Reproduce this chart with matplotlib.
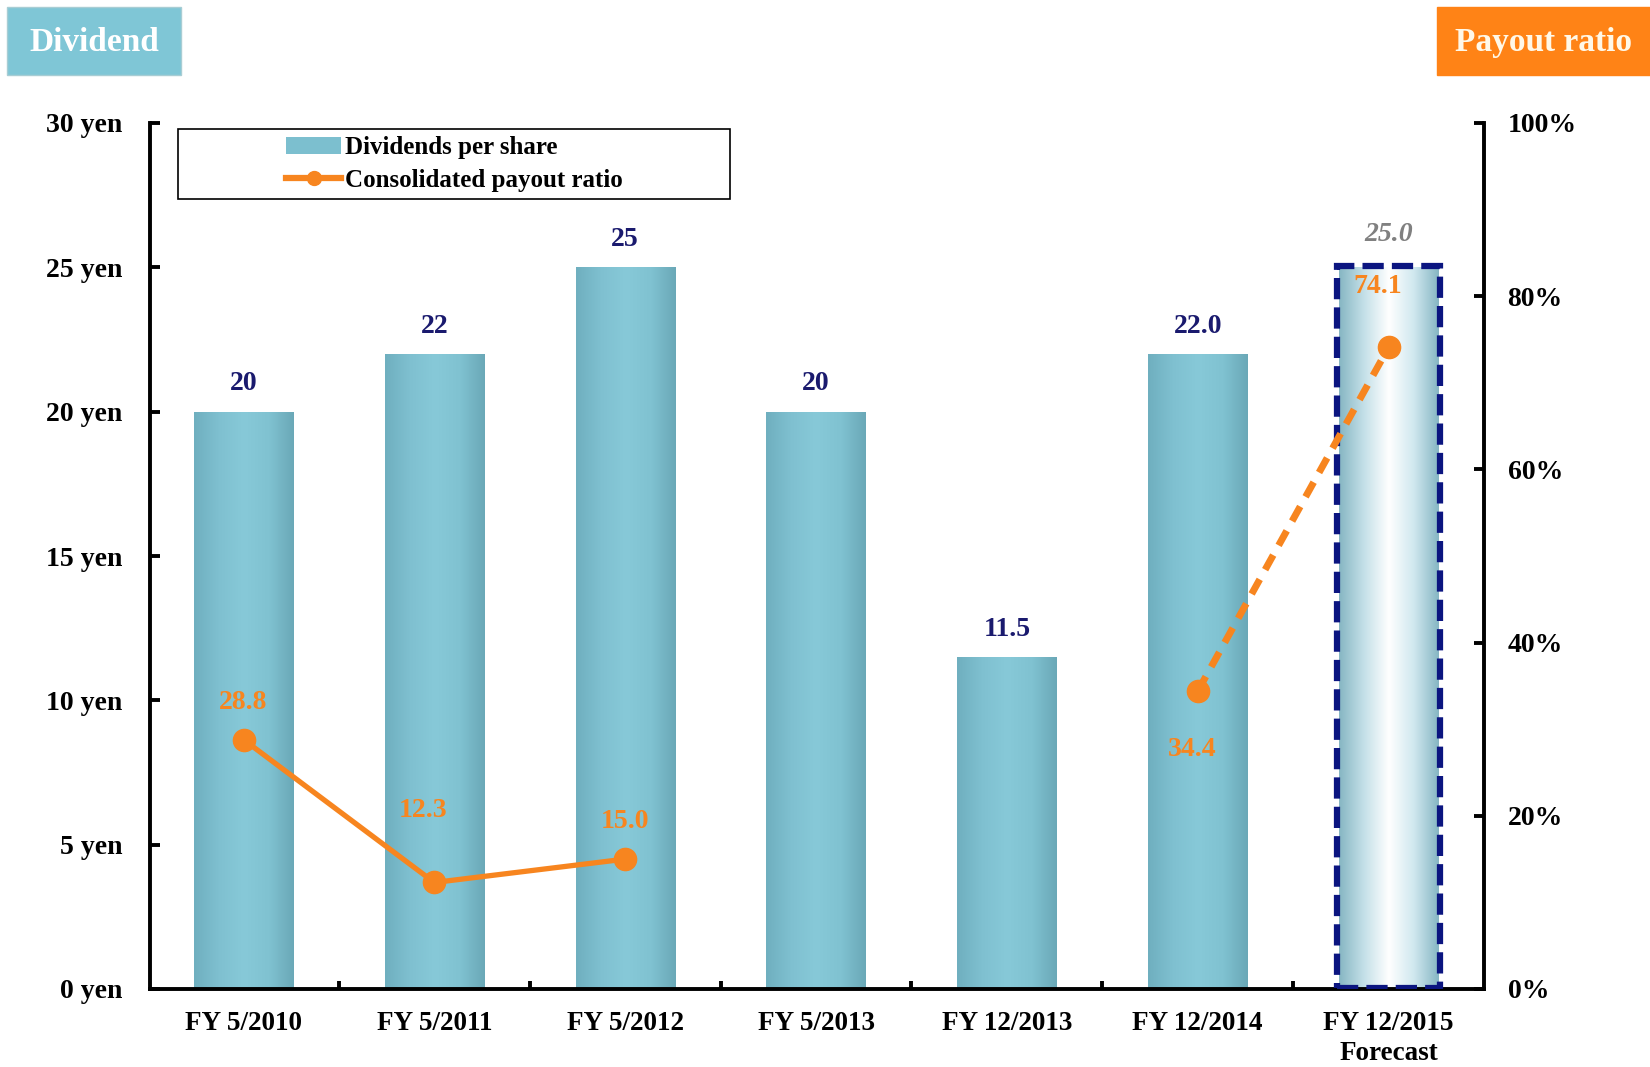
import numpy as np
import matplotlib
matplotlib.use("Agg")
import matplotlib.pyplot as plt
from matplotlib.patches import Rectangle
from matplotlib.lines import Line2D
from matplotlib.colors import LinearSegmentedColormap

plt.rcParams['font.family'] = ['Liberation Serif', 'DejaVu Serif']
plt.rcParams['font.weight'] = 'bold'

# ---------------- data ----------------
categories = ["FY 5/2010", "FY 5/2011", "FY 5/2012", "FY 5/2013",
              "FY 12/2013", "FY 12/2014", "FY 12/2015\nForecast"]
dividends = [20, 22, 25, 20, 11.5, 22.0, 25.0]
dividend_labels = ["20", "22", "25", "20", "11.5", "22.0", "25.0"]
payout_actual_idx = [0, 1, 2]
payout_actual = [28.8, 12.3, 15.0]
payout_fc_idx = [5, 6]
payout_fc = [34.4, 74.1]
payout_labels = ["28.8", "12.3", "15.0", "34.4", "74.1"]
left_ticks = [0, 5, 10, 15, 20, 25, 30]
left_ticklabels = ["0 yen", "5 yen", "10 yen", "15 yen", "20 yen", "25 yen", "30 yen"]
right_ticks = [0, 20, 40, 60, 80, 100]
right_ticklabels = ["0%", "20%", "40%", "60%", "80%", "100%"]

# ---------------- styles ----------------
ORANGE = '#f7851f'
NAVY = '#1a1a6e'
BOXNAVY = '#0b1580'
bar_cmap = LinearSegmentedColormap.from_list('bar', ['#6fafbf', '#7fc0d0', '#87c9d8', '#80c2d1', '#6aa8b7'])
fc_cmap = LinearSegmentedColormap.from_list('fc', ['#86b6c3', '#c4e0e8', '#ffffff', '#d0e8ef', '#86b6c3'])
payout_offsets = [(0, 27), (-8, 52), (0, 27), (-4, -42), (-8, 44)]
FS = 20

fig = plt.figure(figsize=(16.5, 10.67), dpi=100)
ax = fig.add_axes([150/1650, 1-989/1067, (1484-150)/1650, (989-123)/1067])
ax2 = ax.twinx()

x = np.arange(len(categories))
width = 0.52
bars = ax.bar(x, dividends, width=width, color='none', edgecolor='none', zorder=2)
grad = np.linspace(0, 1, 256).reshape(1, -1)
for i, b in enumerate(bars):
    bx, by = b.get_x(), b.get_y()
    bw, bh = b.get_width(), b.get_height()
    cmap = fc_cmap if i == len(bars) - 1 else bar_cmap
    im = ax.imshow(grad, cmap=cmap, aspect='auto', extent=[bx, bx + bw, by, by + bh],
                   zorder=2, interpolation='bicubic')
    im.set_clip_path(b)
    if i == len(bars) - 1:
        pad = 0.012
        ax.add_patch(Rectangle((bx - pad, 0.05), bw + 2 * pad, bh,
                               fill=False, edgecolor=BOXNAVY, lw=4.5,
                               linestyle=(0, (3.4, 1.3)), zorder=3))

for i, (xi, v, lab) in enumerate(zip(x, dividends, dividend_labels)):
    if i == len(x) - 1:
        ax.annotate(lab, (xi, v), xytext=(0, 15), textcoords='offset points',
                    ha='center', va='bottom', fontsize=FS, color='#808080',
                    style='italic', fontweight='bold')
    else:
        ax.annotate(lab, (xi, v), xytext=(0, 11), textcoords='offset points',
                    ha='center', va='bottom', fontsize=FS, color=NAVY, fontweight='bold')

ax.set_xlim(-0.49, 6.5)
ax.set_ylim(0, 30)
ax2.set_ylim(0, 100)

ax2.plot(x[payout_actual_idx], payout_actual, color=ORANGE, lw=3.8, marker='o',
         markersize=16, zorder=5)
ax2.plot(x[payout_fc_idx], payout_fc, color=ORANGE, lw=5, linestyle=(0, (2.4, 1.6)),
         marker='o', markersize=16, zorder=5)
all_idx = payout_actual_idx + payout_fc_idx
all_val = payout_actual + payout_fc
for xi_i, v, lab, off in zip(all_idx, all_val, payout_labels, payout_offsets):
    ax2.annotate(lab, (x[xi_i], v), xytext=off, textcoords='offset points',
                 ha='center', va='center', fontsize=FS, color=ORANGE, fontweight='bold')

# axes styling
for a in (ax, ax2):
    for s in a.spines.values():
        s.set_linewidth(2.8)
        s.set_color('black')
    a.spines['top'].set_visible(False)
ax.spines['right'].set_visible(False)
ax2.spines['left'].set_visible(False)
ax2.spines['bottom'].set_visible(False)

ax.set_yticks(left_ticks)
ax.set_yticklabels(left_ticklabels, fontsize=FS, fontweight='bold')
ax.tick_params(axis='y', direction='in', length=7, width=2.8, pad=20)
ax2.set_yticks(right_ticks)
ax2.set_yticklabels(right_ticklabels, fontsize=FS, fontweight='bold')
ax2.tick_params(axis='y', direction='in', length=7, width=2.8, pad=17)

ax.set_xticks(x)
ax.set_xticklabels(categories, fontsize=19.5, fontweight='bold', linespacing=1.25)
ax.tick_params(axis='x', length=0, pad=16)
ax.set_xticks(np.arange(len(categories) - 1) + 0.5, minor=True)
ax.tick_params(axis='x', which='minor', direction='in', length=6, width=2.8)

# legend
ax.add_patch(Rectangle((0.0213, 0.9125), 0.4137, 0.080, transform=ax.transAxes,
                       fill=False, edgecolor='black', lw=1.2, zorder=6))
handles = [Rectangle((0, 0), 1, 1, facecolor='#7cbfcf', edgecolor='none'),
           Line2D([0], [0], color=ORANGE, lw=4.5, marker='o', markersize=10)]
leg = ax.legend(handles, ['Dividends per share', 'Consolidated payout ratio'],
                loc='center', bbox_to_anchor=(0.2282, 0.9525), frameon=False,
                prop={'family': 'Liberation Serif', 'weight': 'bold', 'size': 18},
                handlelength=2.2, handletextpad=0.15, labelspacing=0.4, borderpad=0)
leg.set_zorder(7)

# header boxes
fig.patches.append(Rectangle((7/1568, 1-71/1014), 165/1568, 64/1014,
                             transform=fig.transFigure, facecolor='#7fc6d6',
                             edgecolor='#a8cdd4', lw=1, figure=fig))
fig.text(89.5/1568, 1-40/1014, 'Dividend', ha='center', va='center', fontsize=24,
         fontweight='bold', color='white')
fig.patches.append(Rectangle((1366/1568, 1-71/1014), 202/1568, 64/1014,
                             transform=fig.transFigure, facecolor='#ff8316',
                             edgecolor='#ff8316', lw=1, figure=fig))
fig.text(1467/1568, 1-40/1014, 'Payout ratio', ha='center', va='center', fontsize=24,
         fontweight='bold', color='#fff8e8')

fig.savefig('out.png', dpi=100)
